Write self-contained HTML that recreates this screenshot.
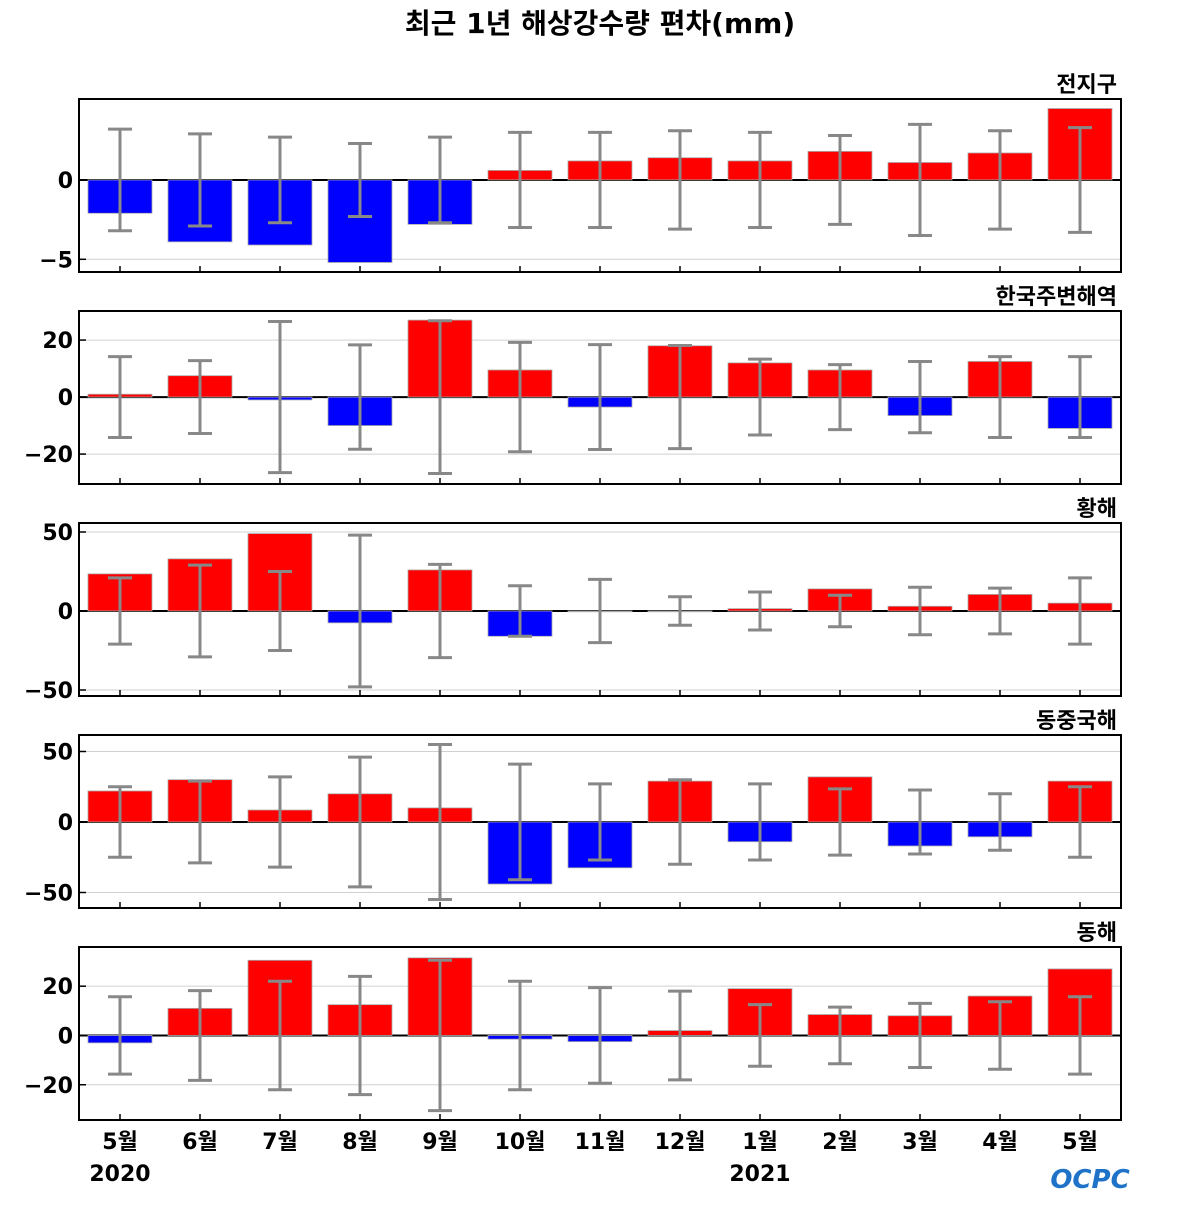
<!DOCTYPE html>
<html><head><meta charset="utf-8"><style>
html,body{margin:0;padding:0;background:#fff;}
svg text{font-family:"DejaVu Sans","Noto Sans CJK KR",sans-serif;font-weight:bold;}
</style></head><body>
<svg id="chart" width="1200" height="1200" xmlns="http://www.w3.org/2000/svg">
<text x="600" y="33" text-anchor="middle" font-size="28">최근 1년 해상강수량 편차(mm)</text>
<g><text x="1090" y="1188" text-anchor="middle" font-size="26" fill="#1e73c8" font-style="italic">OCPC</text></g>
</svg>
<script>
const months = ["5월","6월","7월","8월","9월","10월","11월","12월","1월","2월","3월","4월","5월"];
const regions = ["전지구","한국주변해역","황해","동중국해","동해"];
const valsGlobal = [-2.1,-3.9,-4.1,-5.2,-2.8,0.6,1.2,1.4,1.2,1.8,1.1,1.7,4.5];
const errGlobal = [3.2,2.9,2.7,2.3,2.7,3.0,3.0,3.1,3.0,2.8,3.5,3.1,3.3];
const valsKorea = [1,7.5,-1,-10,27,9.5,-3.5,18,12,9.5,-6.5,12.5,-11];
const errKorea = [14.2,12.8,26.5,18.3,26.8,19.2,18.4,18.1,13.3,11.4,12.5,14.2,14.2];
const valsYellow = [23.5,33,49,-7.5,26,-16,-0.5,-0.5,1.5,14,3,10.5,5];
const errYellow = [21,29,25,48,29.5,16,20,9,12,10,15,14.5,21];
const valsECS = [22,30,8.5,20,10,-44,-32.5,29,-14,32,-17,-10.5,29];
const errECS = [25,29,32,46,55,41,27,30,27,23.5,22.7,20,25];
const valsEast = [-3,11,30.5,12.5,31.5,-1.5,-2.5,2,19,8.5,8,16,27];
const errEast = [15.7,18.2,22,24,30.5,22,19.4,18,12.5,11.5,13,13.7,15.7];
const yMin = [-5.8,-30.5,-53.8,-61,-34.3];
const yMax = [5.1,30.2,55.7,61.7,35.9];
const yTicks = [[-5,0],[-20,0,20],[-50,0,50],[-50,0,50],[-20,0,20]];
const tickLabels = [["−5","0"],["−20","0","20"],["−50","0","50"],["−50","0","50"],["−20","0","20"]];
const years = ["2020","2021"];
const allVals=[valsGlobal,valsKorea,valsYellow,valsECS,valsEast];
const allErr=[errGlobal,errKorea,errYellow,errECS,errEast];

const NS="http://www.w3.org/2000/svg";
const svg=document.getElementById('chart');
function mk(tag,attrs,parent){const e=document.createElementNS(NS,tag);for(const k in attrs)e.setAttribute(k,attrs[k]);(parent||svg).appendChild(e);return e;}
const L=79,R=1121,pH=173;
const xC=i=>L+41+i*80;
for(let p=0;p<5;p++){
  const top=99+p*212,bot=top+pH;
  const y=v=>bot-(v-yMin[p])/(yMax[p]-yMin[p])*pH;
  const g=mk('g',{});
  
  
  yTicks[p].forEach((t,k)=>{
    if(t!==0){const gl=mk('line',{x1:L,x2:R,y1:y(t),y2:y(t),stroke:'#d0d0d0','stroke-width':1},g);
      }
    mk('line',{x1:L,x2:L+7,y1:y(t),y2:y(t),stroke:'#000','stroke-width':1.5},g);
    const tl=mk('text',{x:L-6,y:y(t)+8,'text-anchor':'end','font-size':22},g);
    tl.textContent=tickLabels[p][k];
    
  });
  mk('line',{x1:L,x2:R,y1:y(0),y2:y(0),stroke:'#000','stroke-width':2},g);
  allVals[p].forEach((v,i)=>{
    const b=mk('rect',{x:xC(i)-32,width:64,y:Math.min(y(v),y(0)),height:Math.abs(y(v)-y(0)),fill:v>=0?'#ff0000':'#0000ff',stroke:'#aaa','stroke-width':0.8},g);
    
  });
  allErr[p].forEach((e,i)=>{
    const eg=mk('g',{stroke:'#888','stroke-width':3},g);
    
    mk('line',{x1:xC(i),x2:xC(i),y1:y(e),y2:y(-e)},eg);
    mk('line',{x1:xC(i)-12,x2:xC(i)+12,y1:y(e),y2:y(e)},eg);
    mk('line',{x1:xC(i)-12,x2:xC(i)+12,y1:y(-e),y2:y(-e)},eg);
    mk('line',{x1:xC(i),x2:xC(i),y1:bot,y2:bot-6,stroke:'#000','stroke-width':1.5},g);
  });
  mk('rect',{x:L,y:top,width:R-L,height:pH,fill:'none',stroke:'#000','stroke-width':2},g);
  const rt=mk('text',{x:1117,y:top-7,'text-anchor':'end','font-size':22},g);
  rt.textContent=regions[p];
  
}
months.forEach((m,i)=>{
  const t=mk('text',{x:xC(i),y:1149,'text-anchor':'middle','font-size':22});
  t.textContent=m;
  
});
[0,8].forEach((i,k)=>{
  const t=mk('text',{x:xC(i),y:1181,'text-anchor':'middle','font-size':22});
  t.textContent=years[k];
  
});
</script>
</body></html>
